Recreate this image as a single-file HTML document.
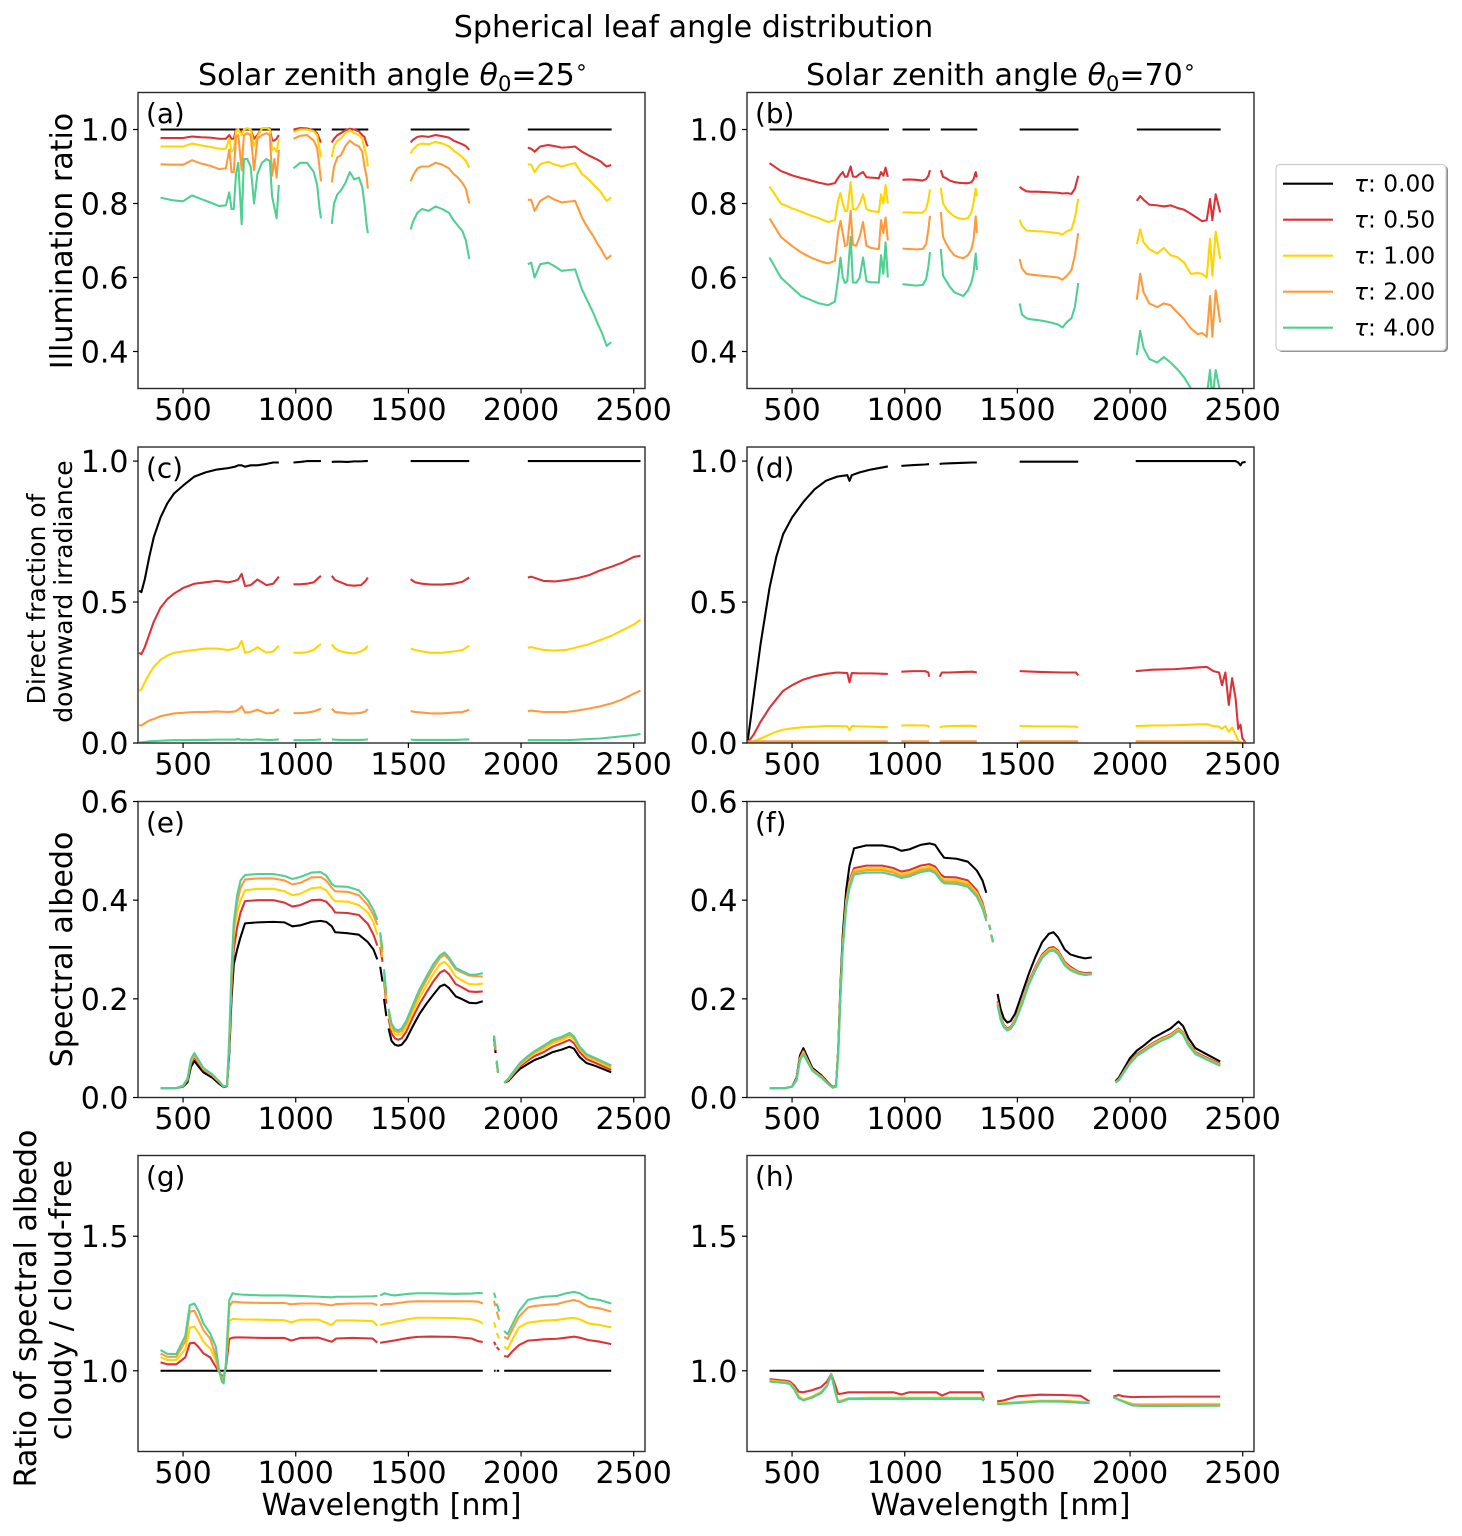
<!DOCTYPE html>
<html lang="en">
<head>
<meta charset="utf-8">
<title>Spherical leaf angle distribution</title>
<style>
html,body{margin:0;padding:0;background:#fff;}
svg{display:block;font-family:"DejaVu Sans","Liberation Sans",sans-serif;fill:#000;}
</style>
</head>
<body>
<svg id="figure" xmlns="http://www.w3.org/2000/svg" width="1462" height="1536" viewBox="0 0 1462 1536">
  <rect width="1462" height="1536" fill="#fff"/>
  <text x="693.500" y="37" font-size="30.1" text-anchor="middle">Spherical leaf angle distribution</text>
  <text x="393" y="85" font-size="30.1" text-anchor="middle">Solar zenith angle <tspan font-style="italic">θ</tspan><tspan font-size="21" dy="6">0</tspan><tspan dy="-6">=25</tspan><tspan font-size="21" dy="-11">∘</tspan></text>
  <text x="1001" y="85" font-size="30.1" text-anchor="middle">Solar zenith angle <tspan font-style="italic">θ</tspan><tspan font-size="21" dy="6">0</tspan><tspan dy="-6">=70</tspan><tspan font-size="21" dy="-11">∘</tspan></text>
  <text transform="translate(72,241) rotate(-90)" font-size="30.1" text-anchor="middle">Illumination ratio</text>
  <text transform="translate(45,599) rotate(-90)" font-size="25" text-anchor="middle">Direct fraction of</text>
  <text transform="translate(72,591.500) rotate(-90)" font-size="25" text-anchor="middle">downward irradiance</text>
  <text transform="translate(72,949.500) rotate(-90)" font-size="30.1" text-anchor="middle">Spectral albedo</text>
  <text transform="translate(36,1308.500) rotate(-90)" font-size="30.1" text-anchor="middle">Ratio of spectral albedo</text>
  <text transform="translate(71,1300) rotate(-90)" font-size="30.1" text-anchor="middle">cloudy / cloud-free</text>
  <text x="391.500" y="1515" font-size="30.1" text-anchor="middle">Wavelength [nm]</text>
  <text x="1000.500" y="1515" font-size="30.1" text-anchor="middle">Wavelength [nm]</text>
  <g id="panels"></g>
  <g id="legend">
    <rect x="1278" y="166" width="170" height="186" rx="4" fill="#8c8c8c"/>
    <rect x="1276" y="164.500" width="170" height="186" rx="4" fill="#fff" stroke="#cfcfcf" stroke-width="1.2"/>
  </g>
</svg>
<script>
// ---- shared labels and ticks ----
const tauLabels = ["0.00", "0.50", "1.00", "2.00", "4.00"];
const seriesColors = ["#000000", "#dc3237", "#ffd500", "#ff9a3c", "#4fcf92"];
const xTicks = [500, 1000, 1500, 2000, 2500];
const xDomain = [300, 2550];
const yTicksIllum = [0.4, 0.6, 0.8, 1.0];
const yTicksDirect = [0.0, 0.5, 1.0];
const yTicksAlbedo = [0.0, 0.2, 0.4, 0.6];
const yTicksRatio = [1.0, 1.5];

// ---- panels (a), (b): illumination ratio ----
const wlIllum = [
 [400,450,500,540,580,620,660,690,705,715,725,735,745,760,770,785,800,815,830,850,870,885,895,905,915,925],
 [990,1020,1050,1080,1095,1105,1112],
 [1160,1170,1185,1200,1220,1240,1260,1280,1295,1305,1315,1320],
 [1510,1520,1540,1560,1590,1620,1650,1680,1700,1720,1740,1755,1770],
 [2030,2045,2060,2085,2120,2150,2180,2210,2240,2270,2300,2320,2340,2355,2365,2380,2400]];
const wlIllumFlat = [[400,930],[990,1112],[1160,1322],[1510,1771],[2030,2402]];
const illumFlat = [[1,1],[1,1],[1,1],[1,1],[1,1]];
const aRed = [
 [.977,.977,.977,.981,.979,.978,.975,.975,.985,.975,.975,1.0,1.0,.99,1.0,1.003,1.0,.975,.985,1.003,1.003,1.003,.97,.97,.975,.985],
 [1.0,1.004,1.003,.997,.99,.975,.965],
 [.965,.975,.985,.99,.998,1.002,1.0,.995,.985,.98,.96,.955],
 [.965,.972,.98,.982,.98,.985,.982,.978,.97,.965,.96,.955,.945],
 [.951,.948,.94,.954,.958,.955,.951,.952,.954,.94,.93,.924,.918,.913,.907,.90,.904]];
const aYellow = [
 [.954,.954,.954,.962,.957,.953,.948,.948,.975,.94,.945,.995,1.0,.985,1.0,1.003,1.0,.955,.98,1.003,1.004,1.0,.945,.95,.94,.975],
 [.993,1.0,1.0,.995,.985,.95,.925],
 [.925,.955,.97,.975,.99,.998,.99,.985,.975,.95,.925,.90],
 [.935,.945,.958,.962,.96,.967,.962,.955,.943,.935,.925,.915,.897],
 [.906,.905,.885,.906,.913,.905,.90,.905,.909,.88,.865,.852,.84,.83,.82,.807,.816]];
const aOrange = [
 [.906,.905,.905,.917,.908,.902,.893,.895,.945,.885,.885,.98,.985,.89,.985,.99,.985,.89,.975,.985,.99,.985,.875,.92,.87,.945],
 [.975,.983,.985,.97,.95,.90,.86],
 [.857,.90,.925,.93,.955,.97,.96,.955,.94,.90,.87,.84],
 [.86,.875,.895,.90,.90,.91,.905,.895,.88,.87,.855,.84,.80],
 [.81,.81,.78,.807,.82,.81,.803,.805,.807,.762,.73,.713,.69,.677,.665,.65,.66]];
const aGreen = [
 [.816,.809,.806,.822,.812,.803,.793,.795,.83,.785,.785,.88,.91,.744,.92,.92,.90,.80,.88,.91,.92,.915,.82,.79,.76,.85],
 [.895,.91,.91,.885,.85,.79,.76],
 [.745,.80,.825,.835,.855,.885,.865,.87,.845,.80,.74,.72],
 [.73,.75,.775,.785,.78,.792,.785,.775,.755,.74,.725,.70,.65],
 [.636,.64,.60,.636,.64,.63,.618,.62,.622,.568,.53,.505,.475,.456,.44,.415,.425]];
const bRed = [
 [.909,.888,.876,.869,.863,.856,.851,.855,.87,.878,.885,.872,.873,.90,.873,.872,.88,.885,.871,.87,.869,.868,.885,.875,.897,.872],
 [.864,.865,.864,.862,.866,.875,.89],
 [.89,.872,.868,.862,.858,.856,.855,.855,.857,.865,.885,.87],
 [.845,.84,.833,.832,.832,.831,.83,.829,.827,.828,.826,.84,.875],
 [.807,.82,.81,.797,.795,.792,.795,.788,.783,.772,.76,.752,.755,.812,.755,.825,.776]];
const bYellow = [
 [.846,.80,.787,.778,.768,.76,.75,.755,.81,.828,.80,.78,.78,.858,.785,.784,.80,.825,.785,.78,.778,.777,.825,.80,.85,.80],
 [.776,.776,.775,.775,.785,.81,.838],
 [.843,.80,.785,.775,.765,.76,.758,.76,.775,.80,.84,.82],
 [.756,.74,.727,.726,.725,.724,.722,.72,.716,.725,.73,.76,.813],
 [.69,.73,.695,.677,.665,.68,.66,.655,.64,.61,.612,.61,.60,.705,.605,.724,.65]];
const bOrange = [
 [.76,.71,.685,.668,.655,.645,.638,.645,.725,.753,.72,.685,.688,.78,.688,.686,.71,.75,.686,.68,.678,.677,.755,.72,.762,.70],
 [.678,.677,.676,.677,.69,.73,.767],
 [.777,.71,.69,.675,.66,.655,.652,.66,.675,.70,.765,.72],
 [.65,.625,.61,.608,.606,.604,.602,.60,.594,.605,.62,.66,.72],
 [.54,.61,.56,.53,.52,.53,.525,.505,.487,.462,.447,.45,.44,.55,.44,.565,.478]];
const bGreen = [
 [.654,.60,.572,.55,.54,.53,.525,.535,.60,.654,.60,.585,.59,.71,.587,.586,.60,.654,.59,.587,.587,.586,.66,.61,.695,.60],
 [.582,.58,.578,.58,.595,.63,.669],
 [.677,.605,.59,.575,.56,.555,.55,.565,.585,.61,.665,.62],
 [.53,.50,.49,.487,.485,.482,.478,.473,.465,.48,.49,.52,.585],
 [.39,.456,.41,.38,.37,.385,.37,.352,.33,.30,.27,.26,.28,.35,.27,.35,.29]];

// ---- panel (c): direct fraction, zenith 25 ----
const wlDirectC = [
 [305,315,330,350,370,400,430,460,500,550,600,650,700,730,745,760,775,800,830,870,900,925],
 [990,1020,1050,1080,1100,1112],
 [1160,1175,1200,1230,1260,1290,1310,1320],
 [1510,1530,1560,1600,1650,1700,1740,1770],
 [2030,2045,2100,2150,2200,2250,2300,2350,2400,2450,2500,2530]];
const cBlack = [
 [.54,.535,.58,.66,.73,.80,.85,.885,.913,.945,.96,.97,.975,.98,.985,.985,.98,.985,.985,.99,.995,.995],
 [.995,.997,1,1,1,1],
 [.997,.998,.998,.997,.999,.999,1,1],
 [1,1,1,1,1,1,1,1],
 [1,1,1,1,1,1,1,1,1,1,1,1]];
const cRed = [
 [.32,.315,.34,.385,.43,.48,.51,.53,.55,.565,.57,.575,.57,.575,.58,.60,.557,.56,.58,.56,.565,.59],
 [.563,.563,.565,.57,.585,.593],
 [.593,.578,.57,.56,.558,.56,.575,.587],
 [.581,.57,.565,.562,.562,.565,.572,.587],
 [.587,.59,.575,.573,.578,.585,.595,.612,.625,.64,.66,.664]];
const cYellow = [
 [.185,.19,.215,.245,.27,.295,.31,.32,.325,.33,.335,.335,.33,.335,.34,.362,.32,.325,.34,.32,.325,.345],
 [.32,.32,.322,.33,.345,.35],
 [.35,.335,.325,.32,.318,.325,.335,.345],
 [.335,.33,.325,.32,.32,.325,.33,.345],
 [.338,.34,.33,.328,.33,.34,.35,.365,.38,.40,.42,.437]];
const cOrange = [
 [.063,.062,.07,.08,.085,.095,.10,.105,.107,.11,.11,.112,.11,.112,.118,.13,.108,.11,.118,.105,.107,.12],
 [.106,.106,.108,.112,.118,.122],
 [.122,.11,.108,.105,.105,.107,.112,.12],
 [.113,.11,.108,.105,.105,.108,.11,.118],
 [.113,.115,.11,.11,.11,.115,.122,.13,.14,.155,.175,.186]];
const cGreen = [
 [.002,.002,.004,.006,.007,.008,.009,.01,.01,.011,.011,.012,.012,.012,.014,.011,.012,.011,.013,.011,.011,.013],
 [.01,.01,.01,.011,.012,.013],
 [.013,.012,.011,.011,.011,.011,.012,.013],
 [.012,.011,.011,.011,.011,.011,.012,.013],
 [.01,.01,.01,.01,.01,.012,.014,.016,.02,.024,.028,.032]];

// ---- panel (d): direct fraction, zenith 70 ----
const wlDirectD = [
 [302,330,360,400,430,460,500,550,600,650,700,745,755,765,800,850,925],
 [985,1040,1090,1105,1108],
 [1155,1165,1200,1260,1300,1320],
 [1510,1600,1700,1760,1770],
 [2025,2100,2200,2300,2340,2370,2395,2408,2423,2438,2453,2468,2480,2490,2498,2513]];
const dBlack = [
 [0,.17,.35,.55,.66,.74,.80,.855,.90,.93,.945,.95,.93,.95,.96,.97,.981],
 [.983,.986,.988,.989,.989],
 [.99,.991,.992,.994,.995,.995],
 [.998,.998,.998,.998,.998],
 [1,1,1,1,1,1,1,1,1,1,1,1,.995,.985,.995,.997]];
const dRed = [
 [0,.03,.075,.125,.155,.185,.205,.225,.237,.245,.25,.248,.215,.248,.247,.247,.245],
 [.253,.255,.255,.25,.235],
 [.235,.25,.25,.252,.253,.25],
 [.255,.252,.25,.25,.24],
 [.255,.26,.262,.268,.27,.255,.25,.205,.25,.135,.23,.16,.05,.065,.018,0]];
const dYellow = [
 [0,.006,.016,.03,.04,.047,.052,.056,.058,.06,.06,.059,.045,.06,.059,.058,.056],
 [.062,.063,.062,.06,.055],
 [.055,.058,.06,.061,.061,.058],
 [.06,.059,.059,.058,.054],
 [.06,.062,.063,.066,.067,.06,.058,.05,.06,.04,.055,.03,.008,.004,.002,0]];
const dOrange = [
 [.006,.006,.006,.006,.006,.006,.006,.006,.006,.006,.006,.006,.006,.006,.006,.006,.006],
 [.006,.006,.006,.006,.006],
 [.006,.006,.006,.006,.006,.006],
 [.006,.006,.006,.006,.006],
 [.006,.006,.006,.006,.006,.006,.006,.006,.006,.006,.006,.004,.002,.001,0,0]];

// ---- panel (e): spectral albedo, zenith 25 ----
const wlAlbedoE = [
 [400,470,500,520,535,550,565,590,630,660,680,695,705,715,725,740,755,775,830,900,950,985,1020,1070,1110,1135,1160,1175,1230,1280,1320,1345,1362],
 [1375,1385],
 [1392,1402],
 [1412,1425,1440,1455,1470,1490,1520,1550,1580,1610,1640,1660,1680,1710,1735,1770,1800,1830],
 [1880,1887],
 [1892,1898],
 [1925,1945,1970,1995,2030,2060,2100,2140,2180,2215,2235,2260,2290,2330,2400]];
const eBlack = [
 [.019,.019,.022,.031,.062,.074,.065,.051,.04,.028,.021,.023,.09,.20,.27,.30,.325,.353,.355,.356,.355,.347,.349,.356,.358,.356,.347,.335,.333,.33,.315,.30,.28],
 [.265,.235],[.20,.165],
 [.14,.115,.107,.105,.107,.118,.145,.17,.19,.208,.225,.229,.222,.205,.20,.192,.191,.195],
 [.12,.09],[.07,.05],
 [.03,.034,.047,.058,.068,.076,.083,.092,.097,.103,.099,.082,.07,.064,.051]];
const eRed = [
 [.019,.019,.023,.035,.068,.082,.072,.056,.044,.031,.022,.024,.10,.22,.30,.345,.375,.398,.40,.40,.395,.387,.39,.40,.401,.397,.385,.375,.374,.37,.352,.33,.308],
 [.305,.275],[.235,.19],
 [.16,.13,.12,.117,.12,.133,.163,.19,.213,.235,.253,.258,.25,.23,.224,.215,.214,.215],
 [.122,.095],[.072,.05],
 [.03,.036,.05,.063,.075,.084,.092,.103,.11,.117,.11,.092,.078,.07,.056]];
const eYellow = [
 [.019,.019,.023,.037,.073,.086,.075,.058,.045,.032,.022,.024,.11,.24,.33,.375,.40,.42,.423,.423,.418,.41,.413,.424,.426,.42,.405,.398,.397,.39,.375,.355,.33],
 [.32,.285],[.245,.20],
 [.17,.14,.129,.126,.129,.142,.173,.203,.227,.25,.27,.275,.266,.245,.238,.23,.229,.231],
 [.124,.097],[.073,.05],
 [.03,.037,.052,.066,.079,.089,.098,.11,.116,.124,.117,.098,.083,.075,.06]];
const eOrange = [
 [.019,.019,.024,.038,.076,.088,.077,.059,.046,.032,.022,.024,.115,.25,.345,.395,.425,.442,.444,.444,.44,.432,.435,.446,.447,.44,.425,.418,.417,.41,.39,.37,.35],
 [.33,.295],[.255,.205],
 [.175,.147,.135,.132,.135,.15,.182,.213,.238,.262,.283,.289,.28,.26,.254,.247,.246,.245],
 [.125,.098],[.074,.05],
 [.03,.038,.053,.068,.082,.092,.102,.114,.12,.128,.121,.101,.086,.078,.063]];
const eGreen = [
 [.019,.019,.024,.039,.078,.09,.079,.06,.047,.033,.022,.024,.12,.26,.355,.41,.44,.451,.453,.453,.449,.443,.447,.456,.457,.45,.433,.428,.427,.42,.40,.38,.36],
 [.335,.30],[.26,.21],
 [.18,.15,.139,.136,.14,.155,.188,.22,.245,.27,.288,.294,.284,.263,.257,.249,.249,.252],
 [.126,.10],[.075,.05],
 [.03,.039,.055,.07,.084,.094,.105,.117,.123,.131,.124,.103,.088,.08,.065]];

// ---- panel (f): spectral albedo, zenith 70 ----
const wlAlbedoF = [
 [400,470,500,520,535,550,565,590,630,660,680,695,705,715,725,740,755,775,830,900,950,985,1020,1070,1110,1135,1160,1175,1230,1280,1320,1345,1362],
 [1375,1380],
 [1384,1392],
 [1412,1425,1440,1455,1470,1490,1520,1550,1580,1610,1640,1660,1680,1710,1735,1770,1800,1830],
 [1935,1950,1975,2000,2030,2060,2100,2140,2180,2215,2235,2260,2290,2330,2400]];
const fBlack = [
 [.019,.019,.022,.04,.085,.10,.085,.06,.045,.03,.021,.023,.10,.23,.33,.42,.47,.505,.511,.511,.507,.50,.503,.512,.515,.512,.495,.486,.484,.478,.46,.44,.415],
 [.35,.34],[.33,.315],
 [.21,.18,.16,.152,.155,.17,.21,.25,.285,.315,.332,.335,.325,.30,.29,.285,.282,.284],
 [.033,.04,.06,.08,.095,.105,.12,.13,.14,.154,.145,.12,.10,.09,.073]];
const fRed = [
 [.019,.019,.022,.038,.08,.095,.08,.057,.043,.029,.02,.022,.095,.22,.315,.40,.44,.465,.47,.47,.465,.458,.461,.47,.473,.468,.452,.447,.446,.44,.42,.395,.365],
 [.35,.34],[.33,.315],
 [.195,.165,.147,.14,.143,.158,.195,.235,.265,.29,.303,.305,.298,.275,.265,.255,.252,.253],
 [.032,.037,.055,.073,.088,.097,.11,.12,.128,.14,.132,.11,.092,.083,.068]];
const fYellow = [
 [.019,.019,.022,.037,.078,.092,.078,.056,.042,.028,.02,.022,.092,.215,.31,.395,.435,.46,.465,.465,.46,.453,.456,.465,.468,.463,.447,.442,.441,.435,.415,.39,.362],
 [.35,.34],[.33,.315],
 [.192,.162,.145,.138,.141,.156,.193,.232,.262,.287,.30,.302,.295,.272,.262,.253,.25,.251],
 [.031,.036,.054,.071,.086,.095,.108,.118,.126,.138,.13,.108,.09,.081,.066]];
const fOrange = [
 [.019,.019,.022,.036,.076,.09,.076,.055,.041,.028,.02,.022,.09,.21,.305,.39,.43,.456,.461,.461,.456,.449,.452,.461,.464,.459,.443,.438,.437,.431,.411,.386,.36],
 [.35,.34],[.33,.315],
 [.19,.16,.143,.137,.14,.154,.19,.23,.26,.285,.298,.30,.293,.27,.26,.252,.249,.25],
 [.031,.035,.053,.07,.085,.094,.106,.116,.124,.136,.128,.106,.089,.08,.065]];
const fGreen = [
 [.019,.019,.022,.035,.075,.088,.075,.054,.04,.027,.02,.022,.088,.205,.30,.385,.425,.452,.456,.456,.451,.445,.448,.457,.46,.455,.44,.434,.433,.427,.407,.383,.358],
 [.35,.34],[.33,.315],
 [.188,.158,.142,.136,.139,.153,.188,.228,.258,.283,.296,.298,.291,.268,.258,.251,.248,.25],
 [.03,.035,.052,.069,.084,.093,.105,.115,.123,.135,.127,.105,.088,.079,.064]];

// ---- panel (g): albedo ratio, zenith 25 ----
const wlRatioG = [
 [400,430,470,510,530,550,570,590,620,645,660,672,680,690,705,720,735,760,850,950,980,1020,1100,1160,1180,1250,1340,1362],
 [1375,1395,1420,1440,1500,1540,1600,1700,1780,1810,1830],
 [1880,1887],
 [1892,1903],
 [1925,1940,1960,1990,2030,2060,2100,2160,2200,2235,2260,2300,2350,2400]];
const wlRatioGFlat = [[400,1362],[1375,1830],[1880,1887],[1892,1903],[1925,2400]];
const gBlack = [[1,1],[1,1],[1,1],[1,1],[1,1]];
const gRed = [
 [1.031,1.024,1.024,1.05,1.102,1.104,1.087,1.065,1.05,1.015,.996,.98,.984,1.01,1.118,1.123,1.124,1.124,1.122,1.122,1.112,1.122,1.123,1.108,1.12,1.122,1.12,1.105],
 [1.104,1.107,1.11,1.113,1.122,1.126,1.127,1.126,1.12,1.11,1.107],
 [1.108,1.095],[1.088,1.077],
 [1.055,1.052,1.071,1.095,1.112,1.114,1.117,1.119,1.123,1.127,1.123,1.114,1.108,1.099]];
const gYellow = [
 [1.05,1.04,1.04,1.08,1.16,1.164,1.14,1.108,1.083,1.04,.997,.97,.978,1.02,1.185,1.193,1.192,1.191,1.19,1.188,1.18,1.19,1.19,1.17,1.187,1.187,1.185,1.168],
 [1.17,1.175,1.178,1.182,1.192,1.197,1.197,1.196,1.192,1.185,1.176],
 [1.18,1.16],[1.14,1.12],
 [1.09,1.08,1.114,1.161,1.179,1.182,1.186,1.189,1.194,1.197,1.191,1.176,1.17,1.161]];
const gOrange = [
 [1.064,1.052,1.052,1.11,1.22,1.223,1.189,1.151,1.12,1.055,.998,.965,.97,1.02,1.238,1.257,1.256,1.254,1.252,1.252,1.247,1.25,1.25,1.243,1.248,1.25,1.25,1.245],
 [1.243,1.248,1.248,1.25,1.257,1.258,1.258,1.258,1.258,1.257,1.25],
 [1.26,1.24],[1.22,1.19],
 [1.127,1.118,1.151,1.20,1.235,1.241,1.244,1.248,1.257,1.263,1.257,1.238,1.232,1.22]];
const gGreen = [
 [1.077,1.063,1.062,1.13,1.244,1.25,1.22,1.176,1.139,1.09,1.002,.96,.953,1.027,1.263,1.288,1.285,1.283,1.28,1.28,1.279,1.278,1.275,1.273,1.275,1.275,1.277,1.278],
 [1.28,1.288,1.282,1.28,1.286,1.288,1.288,1.286,1.287,1.289,1.288],
 [1.29,1.27],[1.25,1.22],
 [1.148,1.136,1.17,1.22,1.263,1.269,1.275,1.278,1.288,1.293,1.288,1.269,1.263,1.25]];

// ---- panel (h): albedo ratio, zenith 70 ----
const wlRatioH = [
 [400,470,490,510,530,550,590,630,655,674,690,704,720,750,850,950,985,1020,1100,1140,1165,1200,1340,1352],
 [1410,1440,1500,1600,1700,1780,1820],
 [1925,1950,1970,2010,2050,2200,2400]];
const wlRatioHFlat = [[400,1352],[1410,1828],[1925,2400]];
const hBlack = [[1,1],[1,1],[1,1]];
const hRed = [
 [.969,.963,.96,.945,.922,.92,.928,.94,.96,.988,.95,.914,.915,.92,.92,.92,.912,.92,.92,.92,.908,.92,.92,.892],
 [.886,.89,.905,.911,.91,.907,.886],
 [.904,.91,.905,.902,.903,.904,.904]];
const hYellow = [
 [.964,.958,.955,.935,.905,.893,.905,.922,.945,.987,.93,.888,.89,.898,.90,.90,.90,.90,.90,.90,.90,.90,.90,.892],
 [.879,.88,.884,.889,.889,.885,.883],
 [.902,.894,.888,.877,.876,.877,.877]];
const hOrange = [
 [.962,.956,.953,.932,.902,.891,.903,.92,.945,.986,.93,.886,.888,.896,.898,.898,.898,.898,.898,.898,.898,.898,.898,.89],
 [.877,.878,.882,.887,.887,.883,.881],
 [.902,.893,.886,.874,.872,.873,.873]];
const hGreen = [
 [.96,.954,.951,.93,.898,.89,.90,.917,.943,.985,.925,.883,.885,.895,.895,.895,.895,.895,.895,.895,.895,.895,.895,.888],
 [.876,.877,.88,.886,.885,.881,.88],
 [.902,.892,.885,.871,.869,.869,.87]];

const SVGNS = "http://www.w3.org/2000/svg";
const panelsRoot = document.getElementById("panels");
const legendRoot = document.getElementById("legend");

function make(tag, parent) {
  const el = document.createElementNS(SVGNS, tag);
  parent.appendChild(el);
  return el;
}
function linear(domain, range) {
  return v => range[0] + (v - domain[0]) / (domain[1] - domain[0]) * (range[1] - range[0]);
}
function segmentsToPath(wl, values, xs, ys) {
  let d = "";
  wl.forEach((segment, i) => {
    segment.forEach((w, j) => {
      d += (j === 0 ? "M" : "L") + xs(w).toFixed(2) + " " + ys(values[i][j]).toFixed(2);
    });
  });
  return d;
}

const panelDefs = [
 {id:"a", left:138, top:92.5, yDomain:[0.3,1.1], yTicks:yTicksIllum,
  series:[[wlIllumFlat,illumFlat,0],[wlIllum,aRed,1],[wlIllum,aYellow,2],[wlIllum,aOrange,3],[wlIllum,aGreen,4]]},
 {id:"b", left:747, top:92.5, yDomain:[0.3,1.1], yTicks:yTicksIllum,
  series:[[wlIllumFlat,illumFlat,0],[wlIllum,bRed,1],[wlIllum,bYellow,2],[wlIllum,bOrange,3],[wlIllum,bGreen,4]]},
 {id:"c", left:138, top:447, yDomain:[0,1.05], yTicks:yTicksDirect,
  series:[[wlDirectC,cBlack,0],[wlDirectC,cRed,1],[wlDirectC,cYellow,2],[wlDirectC,cOrange,3],[wlDirectC,cGreen,4]]},
 {id:"d", left:747, top:447, yDomain:[0,1.05], yTicks:yTicksDirect,
  series:[[wlDirectD,dBlack,0],[wlDirectD,dRed,1],[wlDirectD,dYellow,2],[wlDirectD,dOrange,3]]},
 {id:"e", left:138, top:801.5, yDomain:[0,0.6], yTicks:yTicksAlbedo,
  series:[[wlAlbedoE,eBlack,0],[wlAlbedoE,eRed,1],[wlAlbedoE,eYellow,2],[wlAlbedoE,eOrange,3],[wlAlbedoE,eGreen,4]]},
 {id:"f", left:747, top:801.5, yDomain:[0,0.6], yTicks:yTicksAlbedo,
  series:[[wlAlbedoF,fBlack,0],[wlAlbedoF,fRed,1],[wlAlbedoF,fYellow,2],[wlAlbedoF,fOrange,3],[wlAlbedoF,fGreen,4]]},
 {id:"g", left:138, top:1155.5, yDomain:[0.7,1.8], yTicks:yTicksRatio,
  series:[[wlRatioGFlat,gBlack,0],[wlRatioG,gRed,1],[wlRatioG,gYellow,2],[wlRatioG,gOrange,3],[wlRatioG,gGreen,4]]},
 {id:"h", left:747, top:1155.5, yDomain:[0.7,1.8], yTicks:yTicksRatio,
  series:[[wlRatioHFlat,hBlack,0],[wlRatioH,hRed,1],[wlRatioH,hYellow,2],[wlRatioH,hOrange,3],[wlRatioH,hGreen,4]]}
];
const panelWidth = 507;
const panelHeight = 296;

panelDefs.forEach(p => {
  const right = p.left + panelWidth;
  const bottom = p.top + panelHeight;
  const xs = linear(xDomain, [p.left, right]);
  const ys = linear(p.yDomain, [bottom, p.top]);

  const g = make("g", panelsRoot);
  
  

  const clip = make("clipPath", g);
  clip.setAttribute("id", "clip-" + p.id);
  const clipRect = make("rect", clip);
  clipRect.setAttribute("x", p.left);
  clipRect.setAttribute("y", p.top);
  clipRect.setAttribute("width", panelWidth);
  clipRect.setAttribute("height", panelHeight);

  const plot = make("g", g);
  
  
  plot.setAttribute("clip-path", "url(#clip-" + p.id + ")");

  p.series.forEach(s => {
    const line = make("path", plot);
    
    
    line.setAttribute("d", segmentsToPath(s[0], s[1], xs, ys));
    line.setAttribute("fill", "none");
    line.setAttribute("stroke", seriesColors[s[2]]);
    line.setAttribute("stroke-width", "2.08");
    line.setAttribute("stroke-linejoin", "round");
  });

  const frame = make("rect", g);
  
  
  frame.setAttribute("x", p.left);
  frame.setAttribute("y", p.top);
  frame.setAttribute("width", panelWidth);
  frame.setAttribute("height", panelHeight);
  frame.setAttribute("fill", "none");
  frame.setAttribute("stroke", "#2a2a2a");
  frame.setAttribute("stroke-width", "1.4");

  xTicks.forEach(t => {
    const tick = make("line", g);
    
    
    tick.setAttribute("x1", xs(t));
    tick.setAttribute("x2", xs(t));
    tick.setAttribute("y1", bottom);
    tick.setAttribute("y2", bottom + 5);
    tick.setAttribute("stroke", "#000");
    tick.setAttribute("stroke-width", "1.2");
    const label = make("text", g);
    
    
    label.setAttribute("x", xs(t));
    label.setAttribute("y", bottom + 31.5);
    label.setAttribute("font-size", "30");
    label.setAttribute("text-anchor", "middle");
    label.textContent = String(t);
  });

  p.yTicks.forEach(t => {
    const tick = make("line", g);
    
    
    tick.setAttribute("x1", p.left - 5);
    tick.setAttribute("x2", p.left);
    tick.setAttribute("y1", ys(t));
    tick.setAttribute("y2", ys(t));
    tick.setAttribute("stroke", "#000");
    tick.setAttribute("stroke-width", "1.2");
    const label = make("text", g);
    
    
    label.setAttribute("x", p.left - 9.5);
    label.setAttribute("y", ys(t) + 11);
    label.setAttribute("font-size", "30");
    label.setAttribute("text-anchor", "end");
    label.textContent = t.toFixed(1);
  });

  const tag = make("text", g);
  
  
  tag.setAttribute("x", p.left + 8);
  tag.setAttribute("y", p.top + 30.5);
  tag.setAttribute("font-size", "27.8");
  tag.textContent = "(" + p.id + ")";
});

tauLabels.forEach((tau, i) => {
  const rowY = 183.7 + i * 36;
  const swatch = make("line", legendRoot);
  
  
  swatch.setAttribute("x1", 1283);
  swatch.setAttribute("x2", 1333);
  swatch.setAttribute("y1", rowY);
  swatch.setAttribute("y2", rowY);
  swatch.setAttribute("stroke", seriesColors[i]);
  swatch.setAttribute("stroke-width", "2.08");
  const label = make("text", legendRoot);
  
  
  label.setAttribute("x", 1354);
  label.setAttribute("y", rowY + 8);
  label.setAttribute("font-size", "23.3");
  const sym = make("tspan", label);
  sym.setAttribute("font-style", "italic");
  sym.textContent = "τ";
  const rest = make("tspan", label);
  rest.textContent = ": " + tau;
});
</script>
</body>
</html>
